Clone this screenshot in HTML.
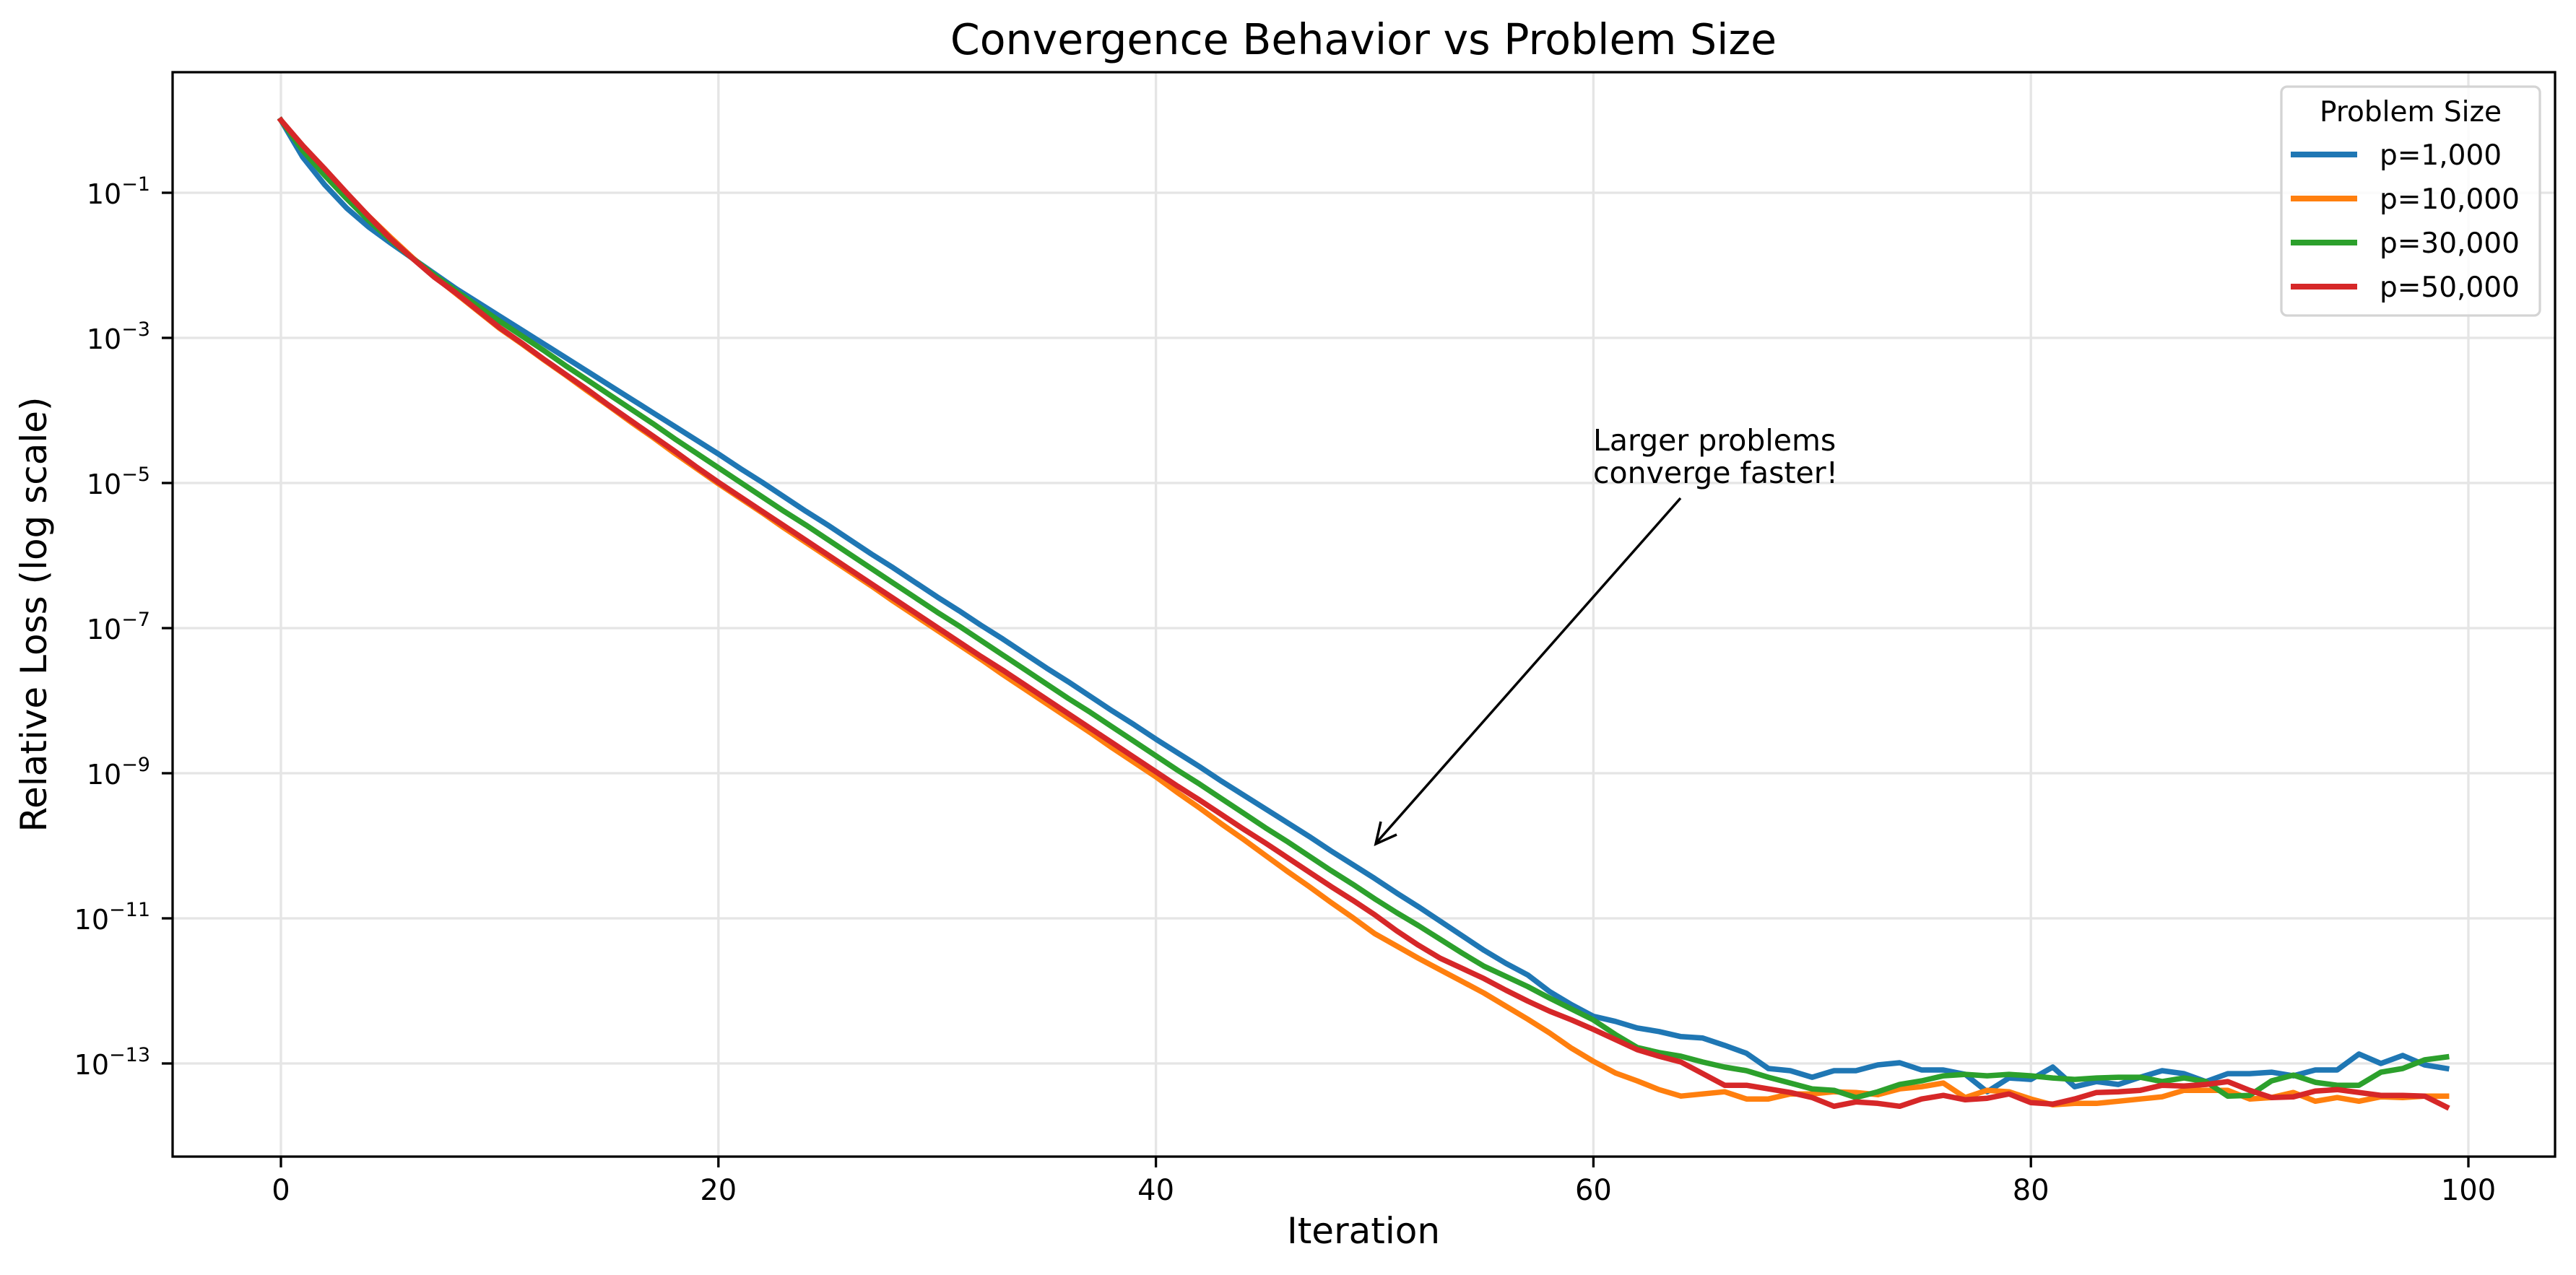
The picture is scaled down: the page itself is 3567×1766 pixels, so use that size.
<!DOCTYPE html>
<html><head><meta charset="utf-8"><style>
html,body{margin:0;padding:0;background:#fff;}
svg{display:block;font-family:"DejaVu Sans","Liberation Sans",sans-serif;}
</style></head><body>
<svg id="chart" width="3567" height="1766" viewBox="0 0 3567 1766" xmlns="http://www.w3.org/2000/svg">
<rect x="0" y="0" width="3567" height="1766" fill="#fff"/>
<g id="grid"></g>
<g id="series"></g>
<rect x="239" y="100" width="3299" height="1502" fill="none" stroke="#000" stroke-width="3.3"/>
<g id="ticks"></g>
<text x="1888" y="75" font-size="58.5" text-anchor="middle">Convergence Behavior vs Problem Size</text>
<text x="1888" y="1722" font-size="50" text-anchor="middle">Iteration</text>
<text transform="translate(64,851) rotate(-90)" font-size="50" text-anchor="middle">Relative Loss (log scale)</text>
<g>
<text x="2206" y="624" font-size="41"><tspan x="2206">Larger problems</tspan><tspan x="2206" dy="45">converge faster!</tspan></text>
<line x1="2327" y1="690" x2="1907" y2="1166" stroke="#000" stroke-width="3.5"/>
<path d="M1912,1138 L1905,1169 L1934,1156" fill="none" stroke="#000" stroke-width="3.5"/>
</g>
<g>
<rect x="3159" y="120" width="358" height="317" rx="8" fill="#fff" fill-opacity="0.85" stroke="#d4d4d4" stroke-width="3.3"/>
<text x="3338" y="168" font-size="39" text-anchor="middle">Problem Size</text>
<line x1="3172" y1="214" x2="3264" y2="214" stroke="#1f77b4" stroke-width="8"/>
<text x="3295" y="228" font-size="39">p=1,000</text>
<line x1="3172" y1="275" x2="3264" y2="275" stroke="#ff7f0e" stroke-width="8"/>
<text x="3295" y="289" font-size="39">p=10,000</text>
<line x1="3172" y1="336" x2="3264" y2="336" stroke="#2ca02c" stroke-width="8"/>
<text x="3295" y="350" font-size="39">p=30,000</text>
<line x1="3172" y1="397" x2="3264" y2="397" stroke="#d62728" stroke-width="8"/>
<text x="3295" y="411" font-size="39">p=50,000</text>
</g>
</svg>
<script>
// log10 of relative loss, iterations 0..99
const seriesNames = ["p=1,000","p=10,000","p=30,000","p=50,000"];
const seriesColors = ["#1f77b4","#ff7f0e","#2ca02c","#d62728"];
const blueLog = [0,-0.51,-0.89,-1.21,-1.47,-1.69,-1.9,-2.11,-2.32,-2.51,-2.7,-2.89,-3.08,-3.27,-3.46,-3.65,-3.84,-4.03,-4.22,-4.41,-4.6,-4.8,-4.99,-5.19,-5.39,-5.58,-5.78,-5.98,-6.17,-6.37,-6.57,-6.76,-6.96,-7.15,-7.35,-7.55,-7.74,-7.94,-8.14,-8.33,-8.53,-8.72,-8.91,-9.11,-9.3,-9.49,-9.68,-9.87,-10.07,-10.26,-10.45,-10.65,-10.84,-11.04,-11.24,-11.44,-11.62,-11.78,-12.01,-12.19,-12.35,-12.42,-12.51,-12.56,-12.63,-12.65,-12.75,-12.86,-13.07,-13.1,-13.19,-13.1,-13.1,-13.02,-12.99,-13.09,-13.09,-13.15,-13.39,-13.2,-13.22,-13.05,-13.32,-13.25,-13.29,-13.19,-13.1,-13.14,-13.25,-13.14,-13.14,-13.12,-13.17,-13.09,-13.09,-12.87,-13.0,-12.89,-13.02,-13.07];
const orangeLog = [0,-0.4,-0.72,-1.02,-1.32,-1.61,-1.89,-2.15,-2.39,-2.63,-2.87,-3.08,-3.3,-3.51,-3.73,-3.94,-4.16,-4.37,-4.59,-4.8,-5.01,-5.21,-5.41,-5.62,-5.82,-6.02,-6.22,-6.42,-6.63,-6.83,-7.03,-7.23,-7.43,-7.64,-7.84,-8.04,-8.24,-8.44,-8.65,-8.85,-9.05,-9.27,-9.48,-9.7,-9.91,-10.13,-10.35,-10.56,-10.78,-10.99,-11.21,-11.38,-11.55,-11.71,-11.87,-12.03,-12.21,-12.39,-12.58,-12.79,-12.97,-13.13,-13.24,-13.36,-13.45,-13.42,-13.39,-13.49,-13.49,-13.42,-13.42,-13.39,-13.40,-13.43,-13.35,-13.32,-13.27,-13.47,-13.37,-13.39,-13.49,-13.57,-13.55,-13.55,-13.52,-13.49,-13.46,-13.37,-13.37,-13.37,-13.49,-13.47,-13.4,-13.52,-13.47,-13.52,-13.46,-13.47,-13.45,-13.45];
const greenLog = [0,-0.42,-0.76,-1.08,-1.38,-1.65,-1.9,-2.13,-2.35,-2.56,-2.77,-2.97,-3.17,-3.38,-3.58,-3.78,-3.98,-4.18,-4.39,-4.59,-4.79,-4.99,-5.19,-5.39,-5.58,-5.78,-5.98,-6.18,-6.38,-6.58,-6.78,-6.97,-7.17,-7.37,-7.57,-7.77,-7.97,-8.16,-8.36,-8.56,-8.76,-8.96,-9.15,-9.35,-9.55,-9.75,-9.94,-10.14,-10.34,-10.53,-10.73,-10.92,-11.1,-11.29,-11.48,-11.66,-11.8,-11.94,-12.1,-12.25,-12.4,-12.6,-12.78,-12.85,-12.9,-12.98,-13.05,-13.1,-13.19,-13.27,-13.35,-13.37,-13.47,-13.39,-13.29,-13.24,-13.17,-13.15,-13.17,-13.15,-13.17,-13.2,-13.22,-13.2,-13.19,-13.19,-13.25,-13.2,-13.25,-13.45,-13.44,-13.24,-13.16,-13.26,-13.3,-13.3,-13.12,-13.07,-12.95,-12.91];
const redLog = [0,-0.35,-0.67,-1.0,-1.32,-1.63,-1.9,-2.16,-2.38,-2.62,-2.86,-3.07,-3.29,-3.5,-3.71,-3.93,-4.14,-4.35,-4.56,-4.78,-4.99,-5.19,-5.39,-5.59,-5.79,-5.99,-6.19,-6.39,-6.59,-6.79,-6.99,-7.19,-7.39,-7.58,-7.78,-7.98,-8.18,-8.38,-8.58,-8.78,-8.98,-9.18,-9.37,-9.57,-9.77,-9.96,-10.16,-10.36,-10.56,-10.75,-10.95,-11.17,-11.37,-11.55,-11.69,-11.83,-11.99,-12.14,-12.28,-12.4,-12.53,-12.67,-12.81,-12.9,-12.98,-13.14,-13.3,-13.3,-13.35,-13.4,-13.47,-13.59,-13.53,-13.55,-13.59,-13.49,-13.44,-13.5,-13.48,-13.42,-13.54,-13.56,-13.49,-13.4,-13.39,-13.37,-13.3,-13.31,-13.29,-13.25,-13.37,-13.47,-13.46,-13.38,-13.36,-13.4,-13.44,-13.44,-13.45,-13.6];
const xTicks = [0,20,40,60,80,100];
const yTickExps = [-13,-11,-9,-7,-5,-3,-1];

const NS = "http://www.w3.org/2000/svg";
function xs(v){ return 389 + v*30.29; }
function ys(l){ return 166.5 - 100.5*l; }
function mk(tag, attrs, parent){
  const e = document.createElementNS(NS, tag);
  for (const k in attrs) e.setAttribute(k, attrs[k]);
  parent.appendChild(e); return e;
}
const grid = document.getElementById('grid');
const ticks = document.getElementById('ticks');
xTicks.forEach(t => {
  const g = mk('line',{x1:xs(t),x2:xs(t),y1:100,y2:1602,stroke:'#e5e5e5','stroke-width':3.3},grid);
  
  
  const tk = mk('line',{x1:xs(t),x2:xs(t),y1:1602,y2:1617,stroke:'#000','stroke-width':3.3},ticks);
  
  
  const tx = mk('text',{x:xs(t),y:1662,'font-size':40,'text-anchor':'middle'},ticks);
  tx.textContent = String(t);
  
  
});
yTickExps.forEach(e => {
  const y = ys(e);
  const g = mk('line',{x1:239,x2:3538,y1:y,y2:y,stroke:'#e5e5e5','stroke-width':3.3},grid);
  
  
  const tk = mk('line',{x1:224,x2:239,y1:y,y2:y,stroke:'#000','stroke-width':3.3},ticks);
  
  
  const tx = mk('text',{x:208,y:y+15,'font-size':38,'text-anchor':'end'},ticks);
  const b = document.createElementNS(NS,'tspan'); b.textContent='10'; tx.appendChild(b);
  const s = document.createElementNS(NS,'tspan'); s.setAttribute('dy','-18'); s.setAttribute('font-size','27'); s.textContent='\u2212'+Math.abs(e); tx.appendChild(s);
  
  
});
const seriesData = [blueLog, orangeLog, greenLog, redLog];
const sg = document.getElementById('series');
seriesData.forEach((arr, k) => {
  const pts = arr.map((l,i) => xs(i).toFixed(1)+','+ys(l).toFixed(1)).join(' ');
  const p = mk('polyline',{points:pts,fill:'none',stroke:seriesColors[k],'stroke-width':7.5,'stroke-linejoin':'round','stroke-linecap':'square'},sg);
  
  
});
</script>
</body></html>
